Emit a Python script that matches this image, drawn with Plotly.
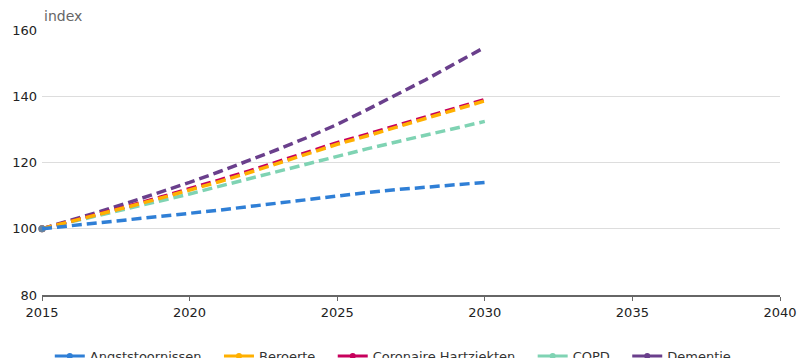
import plotly.graph_objects as go

years = list(range(2015, 2031))
angst = [100, 100.9, 101.8, 102.7, 103.6, 104.5, 105.6, 106.7, 107.8, 108.9, 110.0, 110.9, 111.8, 112.6, 113.3, 114.0]
beroerte = [100, 102.2, 104.5, 106.8, 109.2, 111.6, 114.2, 116.9, 119.7, 122.6, 125.5, 128.0, 130.6, 133.2, 135.9, 138.6]
coronair = [100, 102.3, 104.6, 107.0, 109.5, 112.0, 114.7, 117.4, 120.2, 123.1, 126.0, 128.5, 131.1, 133.7, 136.3, 139.0]
copd = [100, 102.1, 104.2, 106.2, 108.3, 110.5, 112.8, 115.1, 117.4, 119.7, 122.0, 124.1, 126.2, 128.3, 130.3, 132.4]
dementie = [100, 102.6, 105.3, 108.1, 111.0, 114.0, 117.2, 120.5, 124.0, 127.6, 131.5, 135.9, 140.4, 145.0, 149.9, 154.8]

names = ["Angststoornissen", "Beroerte", "Coronaire Hartziekten", "COPD", "Dementie"]
values = [angst, beroerte, coronair, copd, dementie]
colors = ["#2f7fd6", "#ffb000", "#c7005c", "#7fd3b3", "#6a3f8c"]

fig = go.Figure()
for name, vals, col in reversed(list(zip(names, values, colors))):
    sizes = [7] + [0] * (len(years) - 1)
    fig.add_trace(go.Scatter(
        x=years, y=vals, mode="lines+markers", name=name, showlegend=False,
        line=dict(color=col, width=3.5, dash="10px,5px"),
        marker=dict(color=col, size=sizes, line=dict(width=0)),
        cliponaxis=False,
    ))
pad = "\u00a0\u00a0\u00a0"
for i, (name, col) in enumerate(zip(names, colors)):
    fig.add_trace(go.Scatter(
        x=[None], y=[None], mode="lines+markers",
        name=name + (pad if i < len(names) - 1 else ""),
        line=dict(color=col, width=3), marker=dict(color=col, size=6),
    ))

fig.update_layout(
    width=798, height=358,
    margin=dict(l=42, r=18, t=30, b=63, autoexpand=False),
    paper_bgcolor="white", plot_bgcolor="white",
    font=dict(family="DejaVu Sans", size=13, color="#333333"),
    xaxis=dict(range=[2015, 2040], dtick=5, tick0=2015, showgrid=False,
               showline=True, linecolor="#666666", linewidth=2,
               ticks="outside", ticklen=4, tickcolor="#666666", tickwidth=1,
               zeroline=False, automargin=False,
               tickfont=dict(size=13, color="#222222")),
    yaxis=dict(range=[80, 160], dtick=20, showgrid=True, gridcolor="#dddddd",
               gridwidth=1, zeroline=False, showline=False, ticks="",
               automargin=False,
               tickfont=dict(size=13, color="#222222"), ticklabelstandoff=4),
    legend=dict(orientation="h", x=0.476, xanchor="center", y=-0.23, yanchor="middle",
                font=dict(size=13, color="#333333"), itemwidth=30, traceorder="normal"),
    showlegend=True,
    annotations=[dict(text="index", xref="paper", yref="paper", x=0, y=1.0,
                      xanchor="left", yanchor="bottom", showarrow=False,
                      font=dict(size=14, color="#666666"), yshift=4)],
)

fig.write_html("out.html", config={"displayModeBar": False},
               post_script="document.body.style.margin='0';document.body.style.overflow='hidden';")
